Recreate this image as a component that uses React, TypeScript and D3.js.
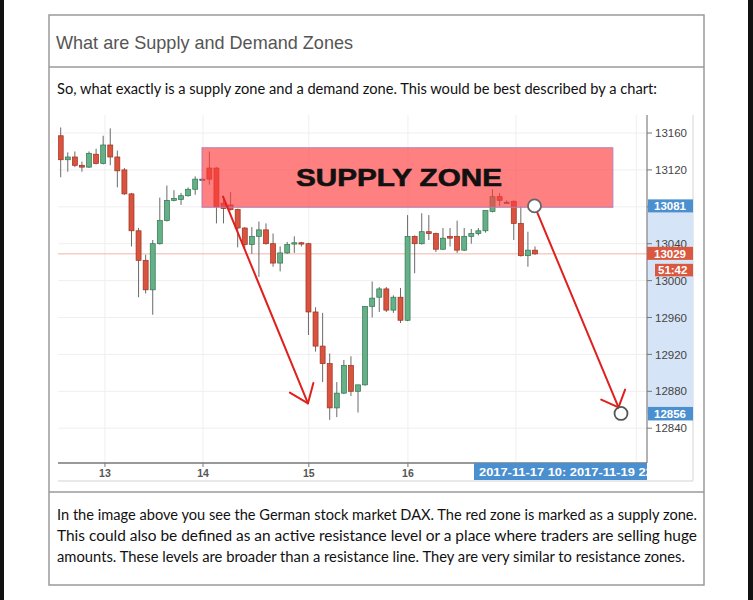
import React from 'react';
import * as d3 from 'd3';

// ---- data (DAX hourly candles) ----
const openPrices = [13157,13131,13134,13125,13123,13137,13127,13147,13134,13120,13094,13054,13022,12990,13040,13065,13087,13088,13092,13099,13110,13122,13122,13084,13082,13077,13057,13039,13048,13055,13040,13019,13030,13040,13041,13040,12966,12929,12910,12862,12878,12908,12880,12887,12972,12982,12991,12968,12982,12957,13048,13040,13053,13051,13034,13048,13048,13033,13048,13051,13054,13075,13091,13085,13086,13062,13027,13033];
const highPrices = [13166,13139,13140,13129,13140,13143,13157,13165,13141,13122,13095,13057,13028,13044,13090,13103,13098,13095,13101,13113,13111,13140,13123,13091,13096,13078,13058,13058,13064,13062,13051,13037,13042,13048,13042,13041,12971,12965,12921,12890,12914,12918,12887,12972,12999,12993,12993,12984,12992,13071,13049,13073,13071,13052,13057,13057,13065,13057,13056,13057,13076,13099,13095,13087,13087,13080,13053,13037];
const lowPrices = [13112,13118,13123,13118,13122,13126,13126,13125,13101,13093,13037,12982,12986,12963,13039,13064,13086,13082,13091,13093,13109,13104,13062,13062,13076,13036,13035,13029,13004,13039,13015,13010,13029,13030,13037,12941,12923,12890,12849,12852,12877,12875,12857,12886,12960,12966,12966,12965,12954,12956,13008,13039,13044,13031,13033,13037,13030,13032,13040,13049,13052,13074,13081,13084,13044,13026,13015,13028];
const closePrices = [13131,13134,13125,13123,13138,13127,13147,13134,13119,13094,13054,13022,12990,13040,13065,13087,13089,13092,13099,13110,13110,13110,13080,13078,13077,13057,13039,13048,13055,13040,13019,13030,13039,13041,13040,12966,12929,12910,12862,12878,12908,12880,12887,12972,12981,12991,12968,12982,12957,13048,13040,13053,13051,13034,13046,13046,13033,13048,13051,13054,13076,13091,13087,13085,13062,13027,13033,13029];

const priceTicks = [13160, 13120, 13080, 13040, 13000, 12960, 12920, 12880, 12840];
const dayTickIndex = [6.25, 20.1, 35.05, 49.05];
const dayTickLabels = ['13', '14', '15', '16'];
const extraGridIndex = [64.3, 81.3];

const zoneIndex = [19.96, 78.0];
const zonePrice = [13079.5, 13144];
const zoneLabel = 'SUPPLY ZONE';

const arrowOne = [[22.93, 13091], [34.93, 12867]];
const arrowTwo = [[66.93, 13081], [79.15, 12856]];

const lastPrice = 13029;
const zoneLevel = 13081;
const targetLevel = 12856;
const countdown = '51:42';
const dateLabel = '2017-11-17 10: 2017-11-19 22:';

const titleText = 'What are Supply and Demand Zones';
const introText = 'So, what exactly is a supply zone and a demand zone. This would be best described by a chart:';
const paragraphLines = [
  'In the image above you see the German stock market DAX. The red zone is marked as a supply zone.',
  'This could also be defined as an active resistance level or a place where traders are selling huge',
  'amounts. These levels are broader than a resistance line. They are very similar to resistance zones.',
];

// ---- layout ----
const W = 753, H = 600;
const plot = { left: 58, right: 647, top: 115, bottom: 463 };
const frameRight = 693, frameBottom = 481;

export default function App() {
  const x = d3.scaleLinear().domain([0, 67]).range([60.7, 535]);
  const y = d3.scaleLinear().domain([12840, 13160]).range([428.2, 133]);

  const bodyW = 5;
  const RED = '#d9543f', RED_S = '#9e2f1e', GREEN = '#66b088', GREEN_S = '#2f7550';

  const arrow = (pts: number[][], r0: number, r1: number, spread: number, len: number) => {
    const x0 = x(pts[0][0]), y0 = y(pts[0][1]);
    const x1 = x(pts[1][0]), y1 = y(pts[1][1]);
    const a = Math.atan2(y1 - y0, x1 - x0);
    const sx = x0 + Math.cos(a) * r0, sy = y0 + Math.sin(a) * r0;
    const ex = x1 - Math.cos(a) * r1, ey = y1 - Math.sin(a) * r1;
    const back = a + Math.PI;
    const w1 = [ex + Math.cos(back - spread) * len, ey + Math.sin(back - spread) * len];
    const w2 = [ex + Math.cos(back + spread) * len, ey + Math.sin(back + spread) * len];
    return { sx, sy, ex, ey, w1, w2 };
  };
  const a1 = arrow(arrowOne, 0, 0, 0.65, 21);
  const a2 = arrow(arrowTwo, 6.5, 6.5, 0.75, 19);

  const bodyFont = 'Lato, "Open Sans", sans-serif';
  const sansFont = '"Liberation Sans", Arial, sans-serif';

  return (
    <svg width={W} height={H} style={{ position: 'absolute', left: 0, top: 0, display: 'block', background: '#fff' }}>
      <defs>
        <clipPath id="plotClip">
          <rect x={plot.left} y={plot.top} width={plot.right - plot.left} height={plot.bottom - plot.top} />
        </clipPath>
        <clipPath id="dateClip">
          <rect x={474} y={plot.bottom} width={plot.right - 474} height={18} />
        </clipPath>
      </defs>
      {/* black edges */}
      <rect x={0} y={0} width={4} height={H} fill="#111" />
      <rect x={748} y={0} width={5} height={H} fill="#111" />

      {/* page box */}
      <rect x={49} y={15} width={655} height={570} fill="none" stroke="#9a9a9a" strokeWidth={1.5} />
      <line x1={49} x2={704} y1={67} y2={67} stroke="#9a9a9a" strokeWidth={1.5} />
      <line x1={49} x2={704} y1={492} y2={492} stroke="#9a9a9a" strokeWidth={1.5} />
      <text x={56} y={49} fontFamily={sansFont} fontSize={19} fill="#555" textLength={297} lengthAdjust="spacingAndGlyphs">{titleText}</text>
      <text x={57} y={94} fontFamily={bodyFont} fontSize={14.5} fill="#111" textLength={600} lengthAdjust="spacingAndGlyphs">{introText}</text>
      {paragraphLines.map((t, i) => (
        <text key={i} x={57} y={520 + i * 21} fontFamily={bodyFont} fontSize={14.5} fill="#111"
          textLength={i === 2 ? 628 : 640} lengthAdjust="spacingAndGlyphs">{t}</text>
      ))}

      {/* chart frame */}
      <line x1={frameRight} x2={frameRight} y1={plot.top} y2={frameBottom} stroke="#dcdcdc" strokeWidth={1.2} />
      <line x1={plot.left} x2={frameRight} y1={frameBottom} y2={frameBottom} stroke="#e2e2e2" strokeWidth={1.5} />

      {/* grid */}
      {priceTicks.map(p => (
        <line key={p} x1={plot.left} x2={plot.right} y1={y(p)} y2={y(p)} stroke="#efefef" strokeWidth={1} />
      ))}
      {[...dayTickIndex, ...extraGridIndex].map((d, i) => (
        <line key={i} x1={x(d)} x2={x(d)} y1={plot.top} y2={plot.bottom} stroke="#efefef" strokeWidth={1} />
      ))}

      {/* last price line */}
      <line x1={plot.left} x2={plot.right} y1={y(lastPrice)} y2={y(lastPrice)} stroke="#f2b4ab" strokeWidth={1} />

      {/* candles */}
      <g clipPath="url(#plotClip)">
        {openPrices.map((o, i) => {
          const c = closePrices[i];
          const cx = x(i);
          const flat = Math.abs(c - o) < 0.5;
          const up = c > o;
          const top = y(Math.max(o, c));
          const bot = y(Math.min(o, c));
          const h = Math.max(bot - top, 1.3);
          const fill = flat ? '#555' : up ? GREEN : RED;
          const stroke = flat ? '#555' : up ? GREEN_S : RED_S;
          return (
            <g key={i}>
              <line x1={cx} x2={cx} y1={y(highPrices[i])} y2={y(lowPrices[i])} stroke="#6a6a6a" strokeWidth={1} />
              <rect x={cx - bodyW / 2} y={top} width={bodyW} height={h} fill={fill} stroke={stroke} strokeWidth={0.7} />
            </g>
          );
        })}
      </g>

      {/* supply zone */}
      <rect x={x(zoneIndex[0])} y={y(zonePrice[1])} width={x(zoneIndex[1]) - x(zoneIndex[0])}
        height={y(zonePrice[0]) - y(zonePrice[1])} fill="rgba(255,60,60,0.65)" stroke="#b77fb8" strokeWidth={1} />
      <text x={296} y={186} fontFamily={sansFont} fontWeight="bold" fontSize={23} fill="#111" stroke="#111" strokeWidth={0.6}
        textLength={206} lengthAdjust="spacingAndGlyphs">{zoneLabel}</text>

      {/* arrows */}
      <g stroke="#e0201e" strokeWidth={2} fill="none" strokeLinecap="round">
        <line x1={a1.sx} y1={a1.sy} x2={a1.ex} y2={a1.ey} />
        <line x1={a1.w1[0]} y1={a1.w1[1]} x2={a1.ex} y2={a1.ey} />
        <line x1={a1.w2[0]} y1={a1.w2[1]} x2={a1.ex} y2={a1.ey} />
        <line x1={a2.sx} y1={a2.sy} x2={a2.ex} y2={a2.ey} />
        <line x1={a2.w1[0]} y1={a2.w1[1]} x2={a2.ex} y2={a2.ey} />
        <line x1={a2.w2[0]} y1={a2.w2[1]} x2={a2.ex} y2={a2.ey} />
      </g>
      <circle cx={x(arrowTwo[0][0])} cy={y(arrowTwo[0][1])} r={6.5} fill="#fff" stroke="#666" strokeWidth={1.8} />
      <circle cx={x(arrowTwo[1][0])} cy={y(arrowTwo[1][1])} r={6.5} fill="none" stroke="#555" strokeWidth={1.8} />

      {/* right axis */}
      <rect x={plot.right} y={y(zoneLevel)} width={frameRight - plot.right} height={y(targetLevel) - y(zoneLevel)} fill="#d5e4f6" />
      <line x1={plot.right} x2={plot.right} y1={plot.top} y2={plot.bottom} stroke="#8a8a8a" strokeWidth={1.3} />
      {priceTicks.map(p => (
        <g key={p}>
          <line x1={plot.right} x2={plot.right + 5} y1={y(p)} y2={y(p)} stroke="#777" strokeWidth={1} />
          <text x={655} y={y(p)} dy="0.36em" fontFamily={sansFont} fontSize={11.5} fill="#444">{p}</text>
        </g>
      ))}
      <rect x={648} y={y(zoneLevel) - 6.5} width={45} height={13} fill="#4a8fd0" />
      <text x={654} y={y(zoneLevel)} dy="0.36em" fontFamily={sansFont} fontWeight="bold" fontSize={11.5} fill="#fff">{zoneLevel}</text>
      <rect x={647} y={y(lastPrice) - 7} width={46} height={13} fill="#d9583f" />
      <text x={654} y={y(lastPrice)} dy="0.36em" fontFamily={sansFont} fontWeight="bold" fontSize={11.5} fill="#fff">{lastPrice}</text>
      <rect x={655} y={y(lastPrice) + 10} width={38} height={12.5} fill="#d9583f" />
      <text x={658} y={y(lastPrice) + 16.3} dy="0.36em" fontFamily={sansFont} fontWeight="bold" fontSize={11.5} fill="#fff">{countdown}</text>
      <rect x={648} y={y(targetLevel) - 6.5} width={45} height={13.5} fill="#4a8fd0" />
      <text x={654} y={y(targetLevel)} dy="0.38em" fontFamily={sansFont} fontWeight="bold" fontSize={11.5} fill="#fff">{targetLevel}</text>

      {/* x axis */}
      <line x1={plot.left} x2={plot.right} y1={plot.bottom} y2={plot.bottom} stroke="#777" strokeWidth={1.5} />
      {dayTickIndex.map((d, i) => (
        <g key={i}>
          <line x1={x(d)} x2={x(d)} y1={plot.bottom} y2={plot.bottom + 4} stroke="#777" strokeWidth={1} />
          <text x={x(d)} y={477} textAnchor="middle" fontFamily={sansFont} fontWeight="bold" fontSize={10.5} fill="#555">{dayTickLabels[i]}</text>
        </g>
      ))}
      <rect x={474} y={plot.bottom} width={plot.right - 474} height={17} fill="#4a8fd0" />
      <g clipPath="url(#dateClip)">
        <text x={479} y={476} fontFamily={sansFont} fontWeight="bold" fontSize={11.5} fill="#fff"
          textLength={178} lengthAdjust="spacingAndGlyphs">{dateLabel}</text>
      </g>
    </svg>
  );
}
